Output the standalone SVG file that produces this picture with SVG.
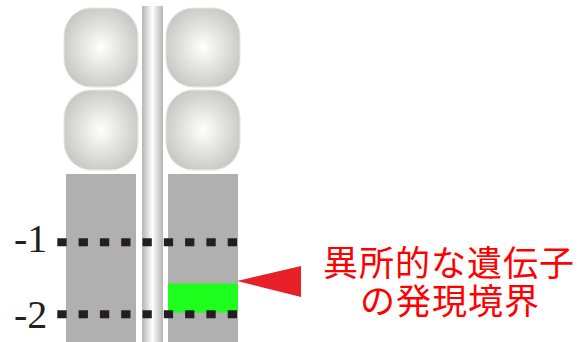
<svg xmlns="http://www.w3.org/2000/svg" width="583" height="342" viewBox="0 0 583 342">
  <defs>
    <radialGradient id="cellFill" cx="0.5" cy="0.5" r="0.6">
      <stop offset="0" stop-color="#ffffff"/>
      <stop offset="0.5" stop-color="#e0e0de"/>
      <stop offset="0.85" stop-color="#cbcbc7"/>
      <stop offset="1" stop-color="#c4c4c0"/>
    </radialGradient>
    <linearGradient id="rodFill" x1="0" y1="0" x2="1" y2="0">
      <stop offset="0" stop-color="#b4b4b4"/>
      <stop offset="0.5" stop-color="#ffffff"/>
      <stop offset="1" stop-color="#b4b4b4"/>
    </linearGradient>
    <style>
      .cell { fill: url(#cellFill); stroke: #e6e6e4; stroke-width: 1; }
      .tissue { fill: #b0b0b0; }
      .level { stroke: #231f20; stroke-width: 8; stroke-dasharray: 9.3 12; fill: none; }
      .num { font-family: "Liberation Serif", "DejaVu Serif", serif; font-size: 40px; fill: #231f20; }
      .label { font-family: "Noto Sans CJK JP", sans-serif; font-size: 35px; letter-spacing: 1px; fill: #ff0000; text-anchor: middle; }
    </style>
  </defs>

  <!-- central rod -->
  <g id="rod">
    <rect x="142" y="6" width="21" height="336" fill="url(#rodFill)"/>
  </g>

  <!-- upper cells -->
  <g id="cell-left-top"><rect class="cell" x="64" y="8" width="74" height="79" rx="27" ry="28"/></g>
  <g id="cell-right-top"><rect class="cell" x="166" y="8" width="74" height="79" rx="27" ry="28"/></g>
  <g id="cell-left-mid"><rect class="cell" x="64" y="90" width="74" height="80" rx="27" ry="28"/></g>
  <g id="cell-right-mid"><rect class="cell" x="166" y="90" width="74" height="80" rx="27" ry="28"/></g>

  <!-- lower tissue blocks -->
  <g id="tissue-left"><rect class="tissue" x="66" y="174" width="70" height="168"/></g>
  <g id="tissue-right"><rect class="tissue" x="168" y="174" width="70" height="168"/></g>

  <!-- expression zone -->
  <g id="expression-zone"><rect x="168" y="283.5" width="70" height="29" fill="#1eff1e"/></g>

  <!-- level markers -->
  <g id="connectors">
    <line class="level" x1="57.3" y1="242.3" x2="240" y2="242.3"/>
    <line class="level" x1="57.3" y1="314.3" x2="240" y2="314.3"/>
  </g>
  <g id="level-1"><text class="num" x="14" y="252">-1</text></g>
  <g id="level-2"><text class="num" x="14" y="328">-2</text></g>

  <!-- pointer and caption -->
  <g id="pointer"><polygon points="237,281 301,266 301,297" fill="#e8202a"/></g>
  <g id="caption">
    <text class="label" x="449" y="276">異所的な遺伝子</text>
    <text class="label" x="450" y="314">の発現境界</text>
  </g>
</svg>
